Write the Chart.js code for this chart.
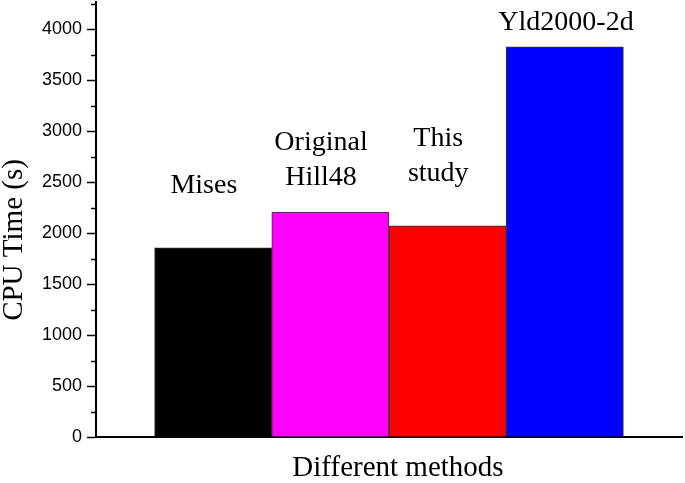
<!DOCTYPE html>
<html>
<head>
<meta charset="UTF-8" />
<title>CPU Time</title>
<script src="https://cdn.jsdelivr.net/npm/chart.js"></script>
<style>
    body { margin: 0; background: #fff; }
    .wrap { width: 685px; height: 483px; }
</style>
</head>
<body>
<div class="wrap"><canvas id="grafico" width="685" height="483"></canvas></div>
<script>
    // dados
    const metodos = ['Mises', 'Original\nHill48', 'This\nstudy', 'Yld2000-2d'];
    const cpuTime = [1855, 2205, 2070, 3825];
    const cores = ['#000000', '#ff00ff', '#ff0000', '#0000ff'];
    const yTicks = [0, 500, 1000, 1500, 2000, 2500, 3000, 3500, 4000];
    // onde fica o centro do rótulo de cada barra (posição da categoria, valor em s)
    const rotuloX = [0.92, 1.92, 2.92, 4.01];
    const rotuloY = [2465, 2714, 2753, 4062];

    const serif = '"Liberation Serif", "Times New Roman", serif';
    const sans = '"Liberation Sans", Arial, sans-serif';

    // slot vazio antes e depois para as barras ficarem nas posições 1..4 de 0..5
    const labels = ['', ...metodos, ''];
    const valores = [null, ...cpuTime, null];

    const rotulos = {
        id: 'rotulos',
        afterDatasetsDraw(chart) {
            const ctx = chart.ctx;
            const x = chart.scales.x, y = chart.scales.y;
            const area = chart.chartArea;
            ctx.save();
            ctx.fillStyle = '#000';
            ctx.font = '28px ' + serif;
            ctx.textAlign = 'center';
            ctx.textBaseline = 'middle';
            metodos.forEach((m, i) => {
                const linhas = m.split('\n');
                const cx = x.left + (x.right - x.left) * rotuloX[i] / 5;
                const cy = y.getPixelForValue(rotuloY[i]);
                const lh = 35;
                linhas.forEach((l, k) => {
                    ctx.fillText(l, cx, cy + (k - (linhas.length - 1) / 2) * lh);
                });
            });

            // títulos dos eixos
            ctx.font = '29px ' + serif;
            ctx.fillText('Different methods', 398, 468);
            ctx.save();
            ctx.translate(14, 240);
            ctx.rotate(-Math.PI / 2);
            ctx.fillText('CPU Time (s)', 0, 0);
            ctx.restore();

            // ticks menores (no meio dos maiores)
            ctx.strokeStyle = '#000';
            ctx.lineWidth = 1.5;
            const passo = yTicks[1] - yTicks[0];
            for (let v = yTicks[0] + passo / 2; v < y.max; v += passo) {
                const py = Math.round(y.getPixelForValue(v)) + 0.5;
                ctx.beginPath();
                ctx.moveTo(area.left - 5, py);
                ctx.lineTo(area.left, py);
                ctx.stroke();
            }
            ctx.restore();
        }
    };

    new Chart(document.getElementById('grafico'), {
        type: 'bar',
        data: {
            labels: labels,
            datasets: [{
                data: valores,
                backgroundColor: [null, ...cores, null],
                borderColor: '#333',
                borderWidth: 1,
                categoryPercentage: 1,
                barPercentage: 1
            }]
        },
        options: {
            responsive: false,
            animation: false,
            layout: { padding: { top: 2, right: 3 } },
            plugins: {
                legend: { display: false },
                tooltip: { enabled: false }
            },
            scales: {
                x: {
                    offset: false,
                    grid: { display: false },
                    border: { color: '#000', width: 2 },
                    ticks: { display: false },
                    afterFit: s => { s.height = 46; s.paddingLeft = 0; s.paddingRight = 0; }
                },
                y: {
                    min: 0,
                    max: 4265,
                    afterBuildTicks: s => { s.ticks = yTicks.map(v => ({ value: v })); },
                    grid: {
                        drawOnChartArea: false,
                        tickLength: 9,
                        tickWidth: 1.5,
                        tickColor: '#000'
                    },
                    border: { color: '#000', width: 2 },
                    ticks: {
                        autoSkip: false,
                        color: '#000',
                        padding: 5,
                        font: { family: sans, size: 18 },
                        callback: (v, i) => String(yTicks[i])
                    },
                    afterFit: s => { s.width = 96; s.paddingTop = 0; s.paddingBottom = 0; }
                }
            }
        },
        plugins: [rotulos]
    });
</script>
</body>
</html>
